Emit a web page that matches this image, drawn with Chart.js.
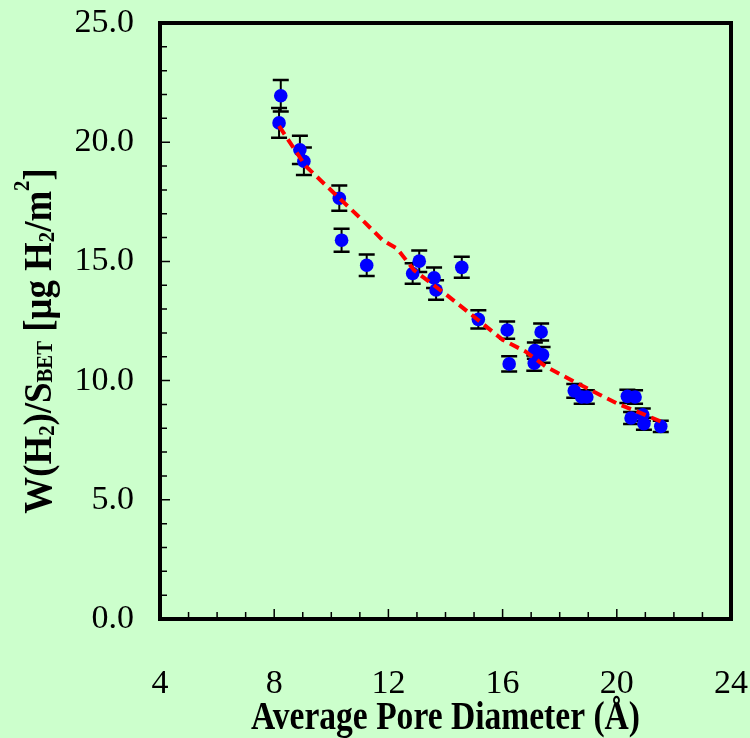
<!DOCTYPE html>
<html>
<head>
<meta charset="utf-8">
<script src="https://cdn.jsdelivr.net/npm/chart.js@4.4.1/dist/chart.umd.min.js"></script>
<style>
  html, body { margin: 0; padding: 0; background: #ccffcc; }
  canvas { display: block; background: #ccffcc; }
</style>
</head>
<body>
<canvas id="poreChart" width="750" height="738"></canvas>
<script>
// measured points (pore diameter in Å, H2 uptake per BET area)
const poreDiameter = [8.23, 8.17, 8.90, 9.04, 10.28, 10.36, 11.24, 12.85, 13.08, 13.60, 13.67, 14.57, 15.15, 16.16, 16.23, 17.35, 17.13, 17.40, 17.11, 18.51, 18.77, 18.95, 20.37, 20.64, 20.50, 20.91, 20.95, 21.54];
const uptake = [21.95, 20.81, 19.68, 19.20, 17.65, 15.89, 14.84, 14.49, 15.01, 14.31, 13.80, 14.75, 12.57, 12.12, 10.70, 12.04, 11.26, 11.08, 10.73, 9.57, 9.31, 9.31, 9.34, 9.31, 8.43, 8.57, 8.19, 8.08];
const uptakeErr = [0.66, 0.62, 0.59, 0.58, 0.53, 0.48, 0.45, 0.43, 0.45, 0.43, 0.41, 0.44, 0.38, 0.36, 0.32, 0.36, 0.34, 0.33, 0.32, 0.29, 0.28, 0.28, 0.28, 0.28, 0.25, 0.26, 0.25, 0.24];

// trend line
const fitX = [8.17, 9.1, 10.1, 11.1, 11.8, 12.3, 12.9, 14.0, 15.0, 16.0, 16.8, 17.5, 18.5, 19.4, 20.1, 20.7, 21.7];
const fitY = [20.68, 19.0, 17.86, 16.72, 15.89, 15.54, 14.63, 13.63, 12.68, 11.71, 11.22, 10.6, 9.96, 9.41, 8.99, 8.71, 8.2];

const xTicks = [4, 8, 12, 16, 20, 24];
const yTicks = [0, 5, 10, 15, 20, 25];

const serif = "'Liberation Serif', 'Times New Roman', serif";

const errorBars = {
  id: "errorBars",
  beforeDatasetsDraw(chart) {
    const { ctx, scales } = chart;
    ctx.save();
    ctx.strokeStyle = "#000";
    poreDiameter.forEach((d, i) => {
      const x = scales.x.getPixelForValue(d);
      const top = scales.y.getPixelForValue(uptake[i] + uptakeErr[i]);
      const bot = scales.y.getPixelForValue(uptake[i] - uptakeErr[i]);
      ctx.lineWidth = 2;
      ctx.beginPath();
      ctx.moveTo(x, top);
      ctx.lineTo(x, bot);
      ctx.stroke();
      ctx.lineWidth = 2.5;
      ctx.beginPath();
      ctx.moveTo(x - 8, top);
      ctx.lineTo(x + 8, top);
      ctx.moveTo(x - 8, bot);
      ctx.lineTo(x + 8, bot);
      ctx.stroke();
    });
    ctx.restore();
  },
};

const frameAndTitles = {
  id: "frameAndTitles",
  afterDraw(chart) {
    const { ctx, chartArea: a, scales } = chart;
    ctx.save();
    // inward tick marks
    ctx.strokeStyle = "#000";
    ctx.lineWidth = 1.5;
    ctx.beginPath();
    for (let v = 4; v <= 24; v++) {
      const x = scales.x.getPixelForValue(v);
      const len = v % 4 === 0 ? 10 : 7;
      ctx.moveTo(x, a.bottom);
      ctx.lineTo(x, a.bottom - len);
    }
    for (let v = 0; v <= 25; v++) {
      const y = scales.y.getPixelForValue(v);
      const len = v % 5 === 0 ? 10 : 7;
      ctx.moveTo(a.left, y);
      ctx.lineTo(a.left + len, y);
    }
    ctx.stroke();

    // frame
    ctx.lineWidth = 4;
    ctx.strokeRect(a.left, a.top, a.right - a.left, a.bottom - a.top);

    // x title
    ctx.fillStyle = "#000";
    ctx.save();
    ctx.translate((a.left + a.right) / 2, 729);
    ctx.scale(0.86, 1);
    ctx.font = "bold 39px " + serif;
    ctx.textAlign = "center";
    ctx.textBaseline = "alphabetic";
    ctx.fillText("Average Pore Diameter (\u00c5)", 0, 0);
    ctx.restore();

    // y title with sub/superscripts
    const parts = [
      { t: "W(H", size: 41, dy: 0 },
      { t: "2", size: 23, dy: 3 },
      { t: ")/S", size: 41, dy: 0 },
      { t: "BET", size: 23, dy: 1 },
      { t: " [\u03bcg H", size: 41, dy: 0 },
      { t: "2", size: 23, dy: 3 },
      { t: "/m", size: 41, dy: 0 },
      { t: "2", size: 23, dy: -22 },
      { t: "]", size: 41, dy: 0 },
    ];
    ctx.save();
    ctx.translate(51, 341);
    ctx.rotate(-Math.PI / 2);
    ctx.scale(0.9, 1);
    ctx.textAlign = "left";
    ctx.textBaseline = "alphabetic";
    let total = 0;
    parts.forEach((p) => {
      ctx.font = "bold " + p.size + "px " + serif;
      p.w = ctx.measureText(p.t).width;
      total += p.w;
    });
    let cx = -total / 2;
    parts.forEach((p) => {
      ctx.font = "bold " + p.size + "px " + serif;
      ctx.fillText(p.t, cx, p.dy);
      cx += p.w;
    });
    ctx.restore();
    ctx.restore();
  },
};

const ctx = document.getElementById("poreChart").getContext("2d");
new Chart(ctx, {
  type: "scatter",
  data: {
    datasets: [
      {
        type: "line",
        data: fitX.map((x, i) => ({ x: x, y: fitY[i] })),
        borderColor: "#ff0000",
        borderWidth: 4,
        borderDash: [10, 6],
        pointRadius: 0,
        fill: false,
        tension: 0,
        order: 0,
      },
      {
        data: poreDiameter.map((x, i) => ({ x: x, y: uptake[i] })),
        backgroundColor: "#0000ff",
        borderColor: "#0000ff",
        borderWidth: 0,
        pointRadius: 6.8,
        order: 1,
      },
    ],
  },
  options: {
    responsive: false,
    animation: false,
    layout: { padding: { left: 0, right: 19, top: 23, bottom: 0 } },
    plugins: { legend: { display: false }, tooltip: { enabled: false } },
    scales: {
      x: {
        type: "linear",
        min: 4,
        max: 24,
        afterBuildTicks: (s) => { s.ticks = xTicks.map((v) => ({ value: v })); },
        ticks: { color: "#000", font: { family: serif, size: 34 }, padding: 45, maxRotation: 0 },
        grid: { display: false, drawTicks: false },
        border: { display: false },
        afterFit: (s) => {
          s.height = 119;
          s.paddingLeft = 0;
          s.paddingRight = 0;
        },
      },
      y: {
        type: "linear",
        min: 0,
        max: 25,
        afterBuildTicks: (s) => { s.ticks = yTicks.map((v) => ({ value: v })); },
        ticks: {
          color: "#000",
          font: { family: serif, size: 34 },
          padding: 26,
          callback: (v) => v.toFixed(1),
        },
        grid: { display: false, drawTicks: false },
        border: { display: false },
        afterFit: (s) => {
          s.width = 160;
          s.paddingTop = 0;
          s.paddingBottom = 0;
        },
      },
    },
  },
  plugins: [errorBars, frameAndTitles],
});
</script>
</body>
</html>
